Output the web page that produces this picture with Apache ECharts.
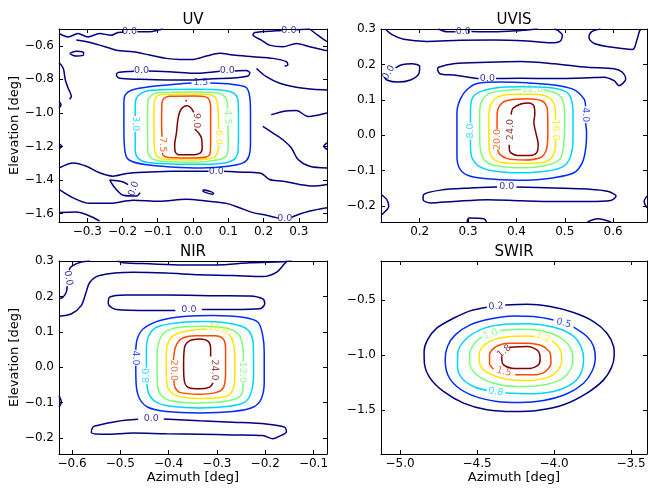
<!DOCTYPE html>
<html>
<head>
<meta charset="utf-8">
<script src="https://cdn.jsdelivr.net/npm/echarts@6/dist/echarts.min.js"></script>
<style>
  html, body { margin: 0; padding: 0; background: #fff; }
  #chart { width: 649px; height: 489px; }
</style>
</head>
<body>
<div id="chart"></div>
<script>
// jet colours for the 7 contour levels of every panel
const levelColors = ['#000080', '#002bff', '#00d4ff', '#7bff7b', '#ffe600', '#ff4800', '#800000'];

// ---- UV ----
const uvTicksX = [-0.3, -0.2, -0.1, 0.0, 0.1, 0.2, 0.3];
const uvTicksY = [-1.6, -1.4, -1.2, -1.0, -0.8, -0.6];
const uvZero = [
  [[-0.38,-0.527],[-0.354,-0.547],[-0.326,-0.527],[-0.298,-0.547],[-0.265,-0.527],[-0.232,-0.537],[-0.213,-0.521],[-0.200,-0.519]],
  [[-0.158,-0.517],[-0.123,-0.517],[-0.095,-0.505],[-0.085,-0.5]],
  [[0.38,-0.628],[0.373,-0.626],[0.331,-0.606],[0.293,-0.586],[0.255,-0.606],[0.217,-0.596],[0.194,-0.566],[0.170,-0.535],[0.175,-0.521],[0.236,-0.511],[0.252,-0.509]],
  [[0.293,-0.505],[0.331,-0.5]],
  [[0.331,-0.5],[0.354,-0.537],[0.38,-0.576]],
  [[-0.331,-0.566],[-0.302,-0.576],[-0.265,-0.596],[-0.217,-0.626],[-0.170,-0.636],[-0.123,-0.655],[-0.076,-0.675],[-0.038,-0.681],[0,-0.681],[0.038,-0.661],[0.076,-0.645],[0.113,-0.655],[0.170,-0.665],[0.227,-0.675],[0.265,-0.695],[0.269,-0.715],[0.260,-0.721]],
  [[-0.350,-0.645],[-0.331,-0.632],[-0.310,-0.641],[-0.312,-0.657],[-0.333,-0.661],[-0.350,-0.645]],
  [[-0.126,-0.750],[-0.057,-0.756],[0,-0.764],[0.057,-0.756],[0.076,-0.752]],
  [[0.118,-0.750],[0.151,-0.748],[0.161,-0.760],[0.156,-0.780],[0.113,-0.792],[0.057,-0.796],[0,-0.804],[-0.076,-0.804],[-0.151,-0.800],[-0.208,-0.794],[-0.217,-0.774],[-0.213,-0.760],[-0.170,-0.752],[-0.167,-0.751]],
  [[-0.38,-0.70],[-0.368,-0.734],[-0.362,-0.804],[-0.354,-0.853],[-0.345,-0.902],[-0.350,-0.918]],
  [[-0.38,-0.932],[-0.374,-0.952],[-0.38,-0.972]],
  [[-0.38,-1.183],[-0.372,-1.199],[-0.38,-1.215]],
  [[0.18,-0.735],[0.208,-0.784],[0.246,-0.823],[0.293,-0.847],[0.340,-0.859],[0.38,-0.863]],
  [[0.222,-1.011],[0.255,-0.991],[0.293,-0.986],[0.326,-1.021],[0.359,-1.011],[0.38,-1.001]],
  [[0.198,-1.080],[0.227,-1.120],[0.255,-1.160],[0.279,-1.209],[0.298,-1.278],[0.331,-1.318],[0.38,-1.328]],
  [[0.38,-1.179],[0.371,-1.199],[0.38,-1.219]],
  [[-0.38,-1.328],[-0.340,-1.298],[-0.302,-1.318],[-0.265,-1.357],[-0.227,-1.377],[-0.189,-1.361],[-0.132,-1.353],[-0.057,-1.347],[0.044,-1.347]],
  [[0.088,-1.348],[0.104,-1.349],[0.151,-1.353],[0.194,-1.361],[0.217,-1.397],[0.255,-1.407],[0.302,-1.426],[0.34,-1.436],[0.38,-1.426]],
  [[-0.150,-1.475],[-0.160,-1.495],[-0.198,-1.490],[-0.222,-1.445],[-0.236,-1.400],[-0.200,-1.410],[-0.184,-1.428]],
  [[-0.38,-1.456],[-0.340,-1.506],[-0.293,-1.539],[-0.236,-1.539],[-0.170,-1.521],[-0.095,-1.527],[-0.019,-1.515],[0.038,-1.525],[0.095,-1.539],[0.132,-1.565],[0.170,-1.594],[0.208,-1.610],[0.236,-1.624],[0.241,-1.626]],
  [[0.280,-1.622],[0.288,-1.614],[0.331,-1.585],[0.38,-1.565]],
  [[-0.38,-1.594],[-0.331,-1.591],[-0.293,-1.614],[-0.265,-1.644]],
  [[0.030,-1.458],[0.058,-1.478],[0.056,-1.484],[0.028,-1.464],[0.030,-1.458]]
];
const uv15 = [[0.049,-0.822],[0.109,-0.829],[0.148,-0.845],[0.159,-0.883],[0.163,-0.982],[0.163,-1.179],[0.158,-1.262],[0.142,-1.298],[0.099,-1.318],[0.024,-1.328],[-0.061,-1.322],[-0.137,-1.308],[-0.180,-1.282],[-0.192,-1.239],[-0.196,-1.100],[-0.196,-0.942],[-0.192,-0.893],[-0.175,-0.865],[-0.118,-0.843],[-0.033,-0.826],[-0.004,-0.822]];
const uv30 = [[-0.164,-1.112],[-0.164,-1.219],[-0.156,-1.268],[-0.132,-1.294],[-0.061,-1.304],[0.024,-1.306],[0.090,-1.298],[0.118,-1.274],[0.128,-1.219],[0.129,-1.061],[0.128,-0.932],[0.118,-0.887],[0.090,-0.867],[0.014,-0.859],[-0.080,-0.861],[-0.132,-0.869],[-0.156,-0.898],[-0.164,-0.942],[-0.164,-1.019]];
const uv45 = [[0.099,-1.073],[0.100,-1.199],[0.095,-1.255],[0.076,-1.278],[0.005,-1.294],[-0.080,-1.290],[-0.116,-1.272],[-0.128,-1.230],[-0.129,-1.041],[-0.128,-0.932],[-0.118,-0.895],[-0.095,-0.879],[0.005,-0.875],[0.071,-0.881],[0.092,-0.906],[0.097,-0.932],[0.098,-0.975]];
const uv60 = [[0.073,-1.193],[0.069,-1.239],[0.057,-1.267],[0.005,-1.280],[-0.080,-1.278],[-0.101,-1.259],[-0.109,-1.219],[-0.111,-1.041],[-0.110,-0.942],[-0.104,-0.905],[-0.090,-0.890],[0.005,-0.887],[0.052,-0.893],[0.066,-0.917],[0.071,-0.982],[0.073,-1.097]];
const uv75 = [[-0.087,-1.238],[-0.084,-1.255],[-0.071,-1.265],[0.005,-1.268],[0.038,-1.263],[0.048,-1.245],[0.050,-1.179],[0.050,-0.982],[0.047,-0.926],[0.035,-0.903],[0.005,-0.899],[-0.066,-0.901],[-0.082,-0.913],[-0.088,-0.942],[-0.089,-1.061],[-0.088,-1.142]];
const uv90 = [[0.005,-1.096],[0.016,-1.120],[0.024,-1.150],[0.026,-1.209],[0.020,-1.239],[-0.005,-1.250],[-0.038,-1.250],[-0.050,-1.235],[-0.052,-1.189],[-0.047,-1.120],[-0.043,-1.041],[-0.037,-0.991],[-0.028,-0.966],[-0.016,-0.958],[-0.005,-0.972],[0.002,-0.997]];
const uv90dot = [[-0.021,-0.925],[-0.018,-0.931]];
const uvLabels = [
  [-0.180,-0.517,'0.0',0,0],[0.272,-0.508,'0.0',0,0],[-0.146,-0.750,'0.0',0,0],[0.097,-0.750,'0.0',0,0],
  [0.066,-1.347,'0.0',0,0],[-0.168,-1.452,'0.0',70,0],[0.260,-1.628,'0.0',0,0],
  [0.022,-0.821,'1.5',0,1],[-0.164,-1.065,'3.0',-90,2],[0.098,-1.024,'4.5',-90,3],
  [0.073,-1.145,'6.0',-90,4],[-0.087,-1.190,'7.5',-90,5],[0.009,-1.046,'9.0',-90,6]
];

// ---- UVIS ----
const uvisTicksX = [0.2, 0.3, 0.4, 0.5, 0.6];
const uvisTicksY = [-0.2, -0.1, 0.0, 0.1, 0.2, 0.3];
const uvisZero = [
  [[0.129,0.3],[0.143,0.284],[0.167,0.271],[0.215,0.265],[0.284,0.268],[0.353,0.269],[0.422,0.266],[0.471,0.261],[0.490,0.265],[0.495,0.282],[0.486,0.296],[0.478,0.3]],
  [[0.239,0.3],[0.257,0.292],[0.274,0.292]],
  [[0.307,0.293],[0.353,0.292],[0.409,0.296],[0.443,0.3]],
  [[0.574,0.3],[0.555,0.292],[0.550,0.275],[0.561,0.259],[0.595,0.249],[0.640,0.242],[0.649,0.268],[0.654,0.292],[0.657,0.3]],
  [[0.150,0.190],[0.163,0.199],[0.184,0.202],[0.2,0.194],[0.198,0.173],[0.181,0.156],[0.153,0.150],[0.132,0.156],[0.127,0.164]],
  [[0.358,0.160],[0.409,0.161],[0.478,0.160],[0.547,0.162],[0.581,0.164],[0.602,0.154],[0.612,0.140],[0.626,0.159],[0.619,0.178],[0.602,0.188],[0.547,0.192],[0.478,0.202],[0.409,0.208],[0.340,0.206],[0.270,0.202],[0.239,0.192],[0.237,0.186],[0.243,0.173],[0.270,0.170],[0.315,0.161],[0.322,0.160]],
  [[0.400,-0.146],[0.478,-0.149],[0.547,-0.152],[0.588,-0.158],[0.606,-0.172],[0.595,-0.184],[0.547,-0.187],[0.478,-0.187],[0.409,-0.185],[0.340,-0.182],[0.270,-0.187],[0.222,-0.191],[0.207,-0.182],[0.208,-0.168],[0.243,-0.155],[0.305,-0.149],[0.360,-0.146]],
  [[0.121,-0.168],[0.132,-0.182],[0.136,-0.201],[0.125,-0.220],[0.121,-0.224]],
  [[0.67,-0.172],[0.664,-0.187],[0.668,-0.201],[0.67,-0.205]],
  [[0.298,-0.245],[0.302,-0.234],[0.333,-0.236],[0.338,-0.245]],
  [[0.547,-0.245],[0.568,-0.236],[0.595,-0.245]]
];
const uvis4 = [[0.543,0.034],[0.545,0.008],[0.543,-0.040],[0.536,-0.078],[0.519,-0.106],[0.478,-0.120],[0.422,-0.127],[0.360,-0.125],[0.305,-0.116],[0.284,-0.097],[0.277,-0.059],[0.277,0.008],[0.277,0.064],[0.284,0.102],[0.298,0.129],[0.319,0.146],[0.367,0.150],[0.422,0.148],[0.478,0.142],[0.519,0.129],[0.540,0.102],[0.543,0.082]];
const uvis8 = [[0.305,0.035],[0.305,0.064],[0.308,0.102],[0.322,0.121],[0.353,0.133],[0.409,0.137],[0.464,0.135],[0.498,0.126],[0.512,0.107],[0.517,0.064],[0.517,-0.011],[0.512,-0.059],[0.498,-0.087],[0.464,-0.101],[0.409,-0.106],[0.353,-0.101],[0.322,-0.087],[0.308,-0.063],[0.305,-0.030],[0.305,-0.012]];
const uvis12 = [[0.456,0.129],[0.485,0.116],[0.497,0.093],[0.500,0.045],[0.498,-0.021],[0.492,-0.063],[0.471,-0.082],[0.416,-0.092],[0.360,-0.087],[0.336,-0.073],[0.326,-0.045],[0.324,0.008],[0.324,0.064],[0.329,0.098],[0.346,0.119],[0.381,0.127],[0.410,0.129]];
const uvis16 = [[0.481,-0.014],[0.480,-0.040],[0.471,-0.066],[0.450,-0.078],[0.409,-0.080],[0.367,-0.076],[0.348,-0.059],[0.343,-0.021],[0.343,0.045],[0.346,0.083],[0.360,0.107],[0.395,0.116],[0.436,0.116],[0.467,0.107],[0.479,0.083],[0.481,0.044]];
const uvis20 = [[0.360,0.017],[0.360,0.055],[0.365,0.083],[0.381,0.098],[0.422,0.103],[0.454,0.096],[0.464,0.074],[0.465,0.008],[0.462,-0.040],[0.450,-0.063],[0.416,-0.070],[0.381,-0.066],[0.366,-0.054],[0.361,-0.040]];
const uvis24 = [[0.385,-0.027],[0.387,-0.047],[0.402,-0.057],[0.429,-0.057],[0.442,-0.049],[0.445,-0.026],[0.440,0.008],[0.436,0.036],[0.438,0.060],[0.436,0.083],[0.426,0.091],[0.409,0.088],[0.393,0.076],[0.389,0.058]];
const uvisLabels = [
  [0.290,0.294,'0.0',0,0],[0.136,0.177,'0.0',60,0],[0.340,0.159,'0.0',0,0],[0.380,-0.145,'0.0',0,0],
  [0.543,0.058,'4.0',-90,1],[0.305,0.012,'8.0',90,2],[0.433,0.130,'12.0',0,3],
  [0.481,0.015,'16.0',-90,4],[0.361,-0.012,'20.0',90,5],[0.387,0.016,'24.0',90,6]
];

// ---- NIR ----
const nirTicksX = [-0.6, -0.5, -0.4, -0.3, -0.2, -0.1];
const nirTicksY = [-0.2, -0.1, 0.0, 0.1, 0.2, 0.3];
const nirZero = [
  [[-0.627,0.144],[-0.601,0.151],[-0.581,0.174],[-0.572,0.207],[-0.563,0.240],[-0.543,0.259],[-0.474,0.268],[-0.405,0.266],[-0.336,0.261],[-0.267,0.259],[-0.205,0.256],[-0.177,0.268],[-0.160,0.292],[-0.155,0.3]],
  [[-0.505,0.3],[-0.494,0.295],[-0.439,0.292],[-0.370,0.289],[-0.301,0.289],[-0.232,0.295],[-0.163,0.298],[-0.146,0.3]],
  [[-0.563,0.3],[-0.581,0.297],[-0.601,0.285],[-0.606,0.275]],
  [[-0.610,0.229],[-0.612,0.212],[-0.619,0.198],[-0.627,0.193]],
  [[-0.331,0.163],[-0.267,0.163],[-0.211,0.165],[-0.201,0.179],[-0.205,0.193],[-0.232,0.201],[-0.301,0.202],[-0.405,0.204],[-0.488,0.204],[-0.522,0.198],[-0.525,0.179],[-0.508,0.163],[-0.439,0.160],[-0.386,0.160]],
  [[-0.410,-0.146],[-0.336,-0.151],[-0.267,-0.155],[-0.198,-0.160],[-0.160,-0.169],[-0.156,-0.182],[-0.171,-0.195],[-0.184,-0.202],[-0.205,-0.193],[-0.267,-0.191],[-0.336,-0.189],[-0.405,-0.188],[-0.474,-0.186],[-0.529,-0.189],[-0.560,-0.184],[-0.557,-0.169],[-0.550,-0.165],[-0.508,-0.153],[-0.463,-0.147]],
  [[-0.627,-0.080],[-0.622,-0.099],[-0.627,-0.113]]
];
const nir4 = [[-0.468,0.004],[-0.467,-0.052],[-0.460,-0.089],[-0.443,-0.113],[-0.405,-0.125],[-0.336,-0.129],[-0.267,-0.125],[-0.225,-0.113],[-0.208,-0.089],[-0.202,-0.042],[-0.202,0.042],[-0.205,0.089],[-0.215,0.127],[-0.246,0.141],[-0.308,0.146],[-0.363,0.144],[-0.418,0.132],[-0.453,0.108],[-0.465,0.080],[-0.468,0.049]];
const nir8 = [[-0.446,-0.001],[-0.446,0.052],[-0.441,0.089],[-0.425,0.113],[-0.384,0.125],[-0.322,0.129],[-0.267,0.122],[-0.236,0.106],[-0.225,0.071],[-0.224,-0.014],[-0.229,-0.071],[-0.243,-0.099],[-0.280,-0.111],[-0.336,-0.115],[-0.391,-0.111],[-0.425,-0.099],[-0.441,-0.075],[-0.445,-0.047]];
const nir12 = [[-0.246,-0.044],[-0.247,-0.071],[-0.260,-0.089],[-0.301,-0.099],[-0.356,-0.101],[-0.398,-0.094],[-0.415,-0.080],[-0.423,-0.052],[-0.424,0.024],[-0.420,0.071],[-0.408,0.099],[-0.377,0.113],[-0.322,0.116],[-0.274,0.108],[-0.253,0.089],[-0.246,0.052],[-0.245,0.016]];
const nir16 = [[-0.276,0.094],[-0.267,0.075],[-0.263,0.033],[-0.263,-0.033],[-0.268,-0.066],[-0.280,-0.082],[-0.322,-0.088],[-0.363,-0.086],[-0.391,-0.075],[-0.403,-0.052],[-0.405,0.014],[-0.403,0.061],[-0.394,0.085],[-0.374,0.099],[-0.343,0.106],[-0.320,0.108]];
const nir20 = [[-0.389,-0.038],[-0.387,-0.056],[-0.377,-0.071],[-0.336,-0.076],[-0.301,-0.071],[-0.286,-0.056],[-0.282,-0.014],[-0.282,0.052],[-0.287,0.080],[-0.305,0.089],[-0.343,0.089],[-0.374,0.080],[-0.386,0.056],[-0.390,0.020]];
const nir24 = [[-0.308,-0.044],[-0.315,-0.056],[-0.336,-0.061],[-0.358,-0.058],[-0.367,-0.042],[-0.369,0.005],[-0.367,0.056],[-0.356,0.075],[-0.336,0.080],[-0.318,0.073],[-0.313,0.052],[-0.313,0.030]];
const nirLabels = [
  [-0.608,0.252,'0.0',-80,0],[-0.358,0.162,'0.0',0,0],[-0.436,-0.146,'0.0',0,0],
  [-0.468,0.026,'4.0',-90,1],[-0.446,-0.024,'8.0',90,2],[-0.247,-0.014,'12.0',-90,3],
  [-0.297,0.108,'16.0',-15,4],[-0.390,-0.009,'20.0',-90,5],[-0.306,-0.008,'24.0',-90,6]
];

// ---- SWIR ----
const swirTicksX = [-5.0, -4.5, -4.0, -3.5];
const swirTicksY = [-1.5, -1.0, -0.5];
const swir02 = [[-4.317,-0.544],[-4.176,-0.538],[-4.025,-0.559],[-3.873,-0.613],[-3.743,-0.695],[-3.656,-0.801],[-3.613,-0.921],[-3.609,-0.997],[-3.624,-1.103],[-3.678,-1.224],[-3.786,-1.344],[-3.938,-1.450],[-4.111,-1.502],[-4.263,-1.511],[-4.436,-1.495],[-4.588,-1.435],[-4.718,-1.329],[-4.805,-1.208],[-4.842,-1.073],[-4.844,-0.967],[-4.822,-0.861],[-4.762,-0.755],[-4.653,-0.665],[-4.545,-0.598],[-4.436,-0.565]];
const swir05 = [[-3.873,-0.746],[-3.786,-0.831],[-3.743,-0.921],[-3.732,-1.027],[-3.754,-1.148],[-3.808,-1.254],[-3.916,-1.350],[-4.068,-1.411],[-4.220,-1.429],[-4.371,-1.420],[-4.523,-1.369],[-4.632,-1.284],[-4.690,-1.178],[-4.707,-1.042],[-4.692,-0.921],[-4.642,-0.816],[-4.545,-0.725],[-4.415,-0.671],[-4.263,-0.644],[-4.133,-0.650],[-4.003,-0.680]];
const swir08 = [[-4.317,-1.344],[-4.176,-1.350],[-4.003,-1.329],[-3.895,-1.269],[-3.830,-1.178],[-3.808,-1.042],[-3.825,-0.921],[-3.884,-0.816],[-4.003,-0.746],[-4.176,-0.716],[-4.350,-0.725],[-4.480,-0.770],[-4.577,-0.861],[-4.625,-0.982],[-4.627,-1.103],[-4.599,-1.208],[-4.523,-1.284],[-4.436,-1.320]];
const swir10 = [[-4.350,-0.776],[-4.220,-0.764],[-4.090,-0.776],[-3.971,-0.831],[-3.899,-0.921],[-3.877,-1.027],[-3.895,-1.133],[-3.960,-1.224],[-4.090,-1.275],[-4.241,-1.284],[-4.393,-1.254],[-4.501,-1.178],[-4.549,-1.073],[-4.545,-0.967],[-4.506,-0.876],[-4.469,-0.837]];
const swir12 = [[-4.014,-0.867],[-3.964,-0.937],[-3.949,-1.027],[-3.971,-1.127],[-4.036,-1.199],[-4.176,-1.230],[-4.306,-1.218],[-4.426,-1.163],[-4.480,-1.088],[-4.486,-0.997],[-4.458,-0.915],[-4.393,-0.861],[-4.285,-0.831],[-4.176,-0.825],[-4.122,-0.831]];
const swir15 = [[-4.252,-1.178],[-4.133,-1.178],[-4.057,-1.148],[-4.020,-1.073],[-4.025,-0.982],[-4.079,-0.915],[-4.176,-0.891],[-4.296,-0.891],[-4.382,-0.927],[-4.419,-0.997],[-4.419,-1.073],[-4.393,-1.127]];
const swir18 = [[-4.289,-0.927],[-4.176,-0.921],[-4.107,-0.958],[-4.090,-1.036],[-4.107,-1.094],[-4.176,-1.121],[-4.274,-1.118],[-4.328,-1.088],[-4.339,-1.042],[-4.339,-1.012]];
const swirLabels = [
  [-4.376,-0.557,'0.2',5,0],[-3.938,-0.710,'0.5',-15,1],[-4.378,-1.333,'0.8',-8,2],
  [-4.412,-0.812,'1.0',20,3],[-4.070,-0.842,'1.2',-20,4],[-4.325,-1.150,'1.5',-15,5],[-4.323,-0.965,'1.8',40,6]
];

const FONT = 'DejaVu Sans';
const fmt = (v) => v.toFixed(1).replace('-', '\u2212');

const panels = [
  { title: 'UV', box: [59, 29, 268, 193], xRange: [-0.38, 0.38], yRange: [-1.65, -0.5],
    xTicks: uvTicksX, yTicks: uvTicksY, xName: '', yName: 'Elevation [deg]', labels: uvLabels,
    levels: [uvZero, [uv15], [uv30], [uv45], [uv60], [uv75], [uv90, uv90dot]] },
  { title: 'UVIS', box: [381, 29, 266, 193], xRange: [0.12, 0.67], yRange: [-0.245, 0.3],
    xTicks: uvisTicksX, yTicks: uvisTicksY, xName: '', yName: '', labels: uvisLabels,
    levels: [uvisZero, [uvis4], [uvis8], [uvis12], [uvis16], [uvis20], [uvis24]] },
  { title: 'NIR', box: [59, 261, 268, 193], xRange: [-0.627, -0.072], yRange: [-0.245, 0.3],
    xTicks: nirTicksX, yTicks: nirTicksY, xName: 'Azimuth [deg]', yName: 'Elevation [deg]', labels: nirLabels,
    levels: [nirZero, [nir4], [nir8], [nir12], [nir16], [nir20], [nir24]] },
  { title: 'SWIR', box: [381, 261, 266, 193], xRange: [-5.124, -3.396], yRange: [-1.896, -0.146],
    xTicks: swirTicksX, yTicks: swirTicksY, xName: 'Azimuth [deg]', yName: '', labels: swirLabels,
    levels: [[swir02], [swir05], [swir08], [swir10], [swir12], [swir15], [swir18]] }
];

const grids = [];
const xAxes = [];
const yAxes = [];
const series = [];
const graphics = [];

const frameLine = { show: true, onZero: false, lineStyle: { color: '#000', width: 1 } };
const tick = (vals) => ({ show: true, inside: true, length: 4, customValues: vals, lineStyle: { color: '#000', width: 1 } });

panels.forEach((p, i) => {
  const [left, top, width, height] = p.box;
  grids.push({ left, top, width, height, containLabel: false });

  ['bottom', 'top'].forEach((pos) => {
    xAxes.push({
      gridIndex: i, type: 'value', position: pos, min: p.xRange[0], max: p.xRange[1],
      axisLine: frameLine, axisTick: tick(p.xTicks), splitLine: { show: false },
      axisLabel: pos === 'bottom'
        ? { show: true, customValues: p.xTicks, formatter: fmt, color: '#000', fontSize: 12, fontFamily: FONT, margin: 4 }
        : { show: false },
      name: pos === 'bottom' ? p.xName : '', nameLocation: 'middle', nameGap: 17,
      nameTextStyle: { color: '#000', fontSize: 13, fontFamily: FONT }
    });
  });
  ['left', 'right'].forEach((pos) => {
    yAxes.push({
      gridIndex: i, type: 'value', position: pos, min: p.yRange[0], max: p.yRange[1],
      axisLine: frameLine, axisTick: tick(p.yTicks), splitLine: { show: false },
      axisLabel: pos === 'left'
        ? { show: true, customValues: p.yTicks, formatter: fmt, color: '#000', fontSize: 12, fontFamily: FONT, margin: 5 }
        : { show: false },
      name: pos === 'left' ? p.yName : '', nameLocation: 'middle', nameGap: 38,
      nameTextStyle: { color: '#000', fontSize: 13, fontFamily: FONT }
    });
  });

  p.levels.forEach((paths, lv) => {
    paths.forEach((path) => {
      series.push({
        type: 'line', xAxisIndex: 2 * i, yAxisIndex: 2 * i, data: path,
        symbol: 'none', silent: true, clip: true, z: 2, smooth: 0.3,
        lineStyle: { color: levelColors[lv], width: 1.5 }
      });
    });
  });

  series.push({
    type: 'scatter', xAxisIndex: 2 * i, yAxisIndex: 2 * i, symbolSize: 1, silent: true, z: 3,
    itemStyle: { color: 'rgba(0,0,0,0)' },
    data: p.labels.map(([x, y, text, rot, lv]) => ({
      name: text, value: [x, y],
      label: { rotate: rot, color: levelColors[lv] }
    })),
    label: { show: true, position: 'inside', formatter: '{b}', fontSize: 9.5, fontFamily: FONT }
  });

  graphics.push({
    type: 'text', x: left + width / 2, y: top - 9,
    style: { text: p.title, font: '15px "DejaVu Sans"', fill: '#000', textAlign: 'center', textVerticalAlign: 'middle' }
  });
});

const chart = echarts.init(document.getElementById('chart'), null, { renderer: 'canvas' });
chart.setOption({
  animation: false,
  backgroundColor: '#fff',
  grid: grids,
  xAxis: xAxes,
  yAxis: yAxes,
  series,
  graphic: graphics
});
</script>
</body>
</html>
